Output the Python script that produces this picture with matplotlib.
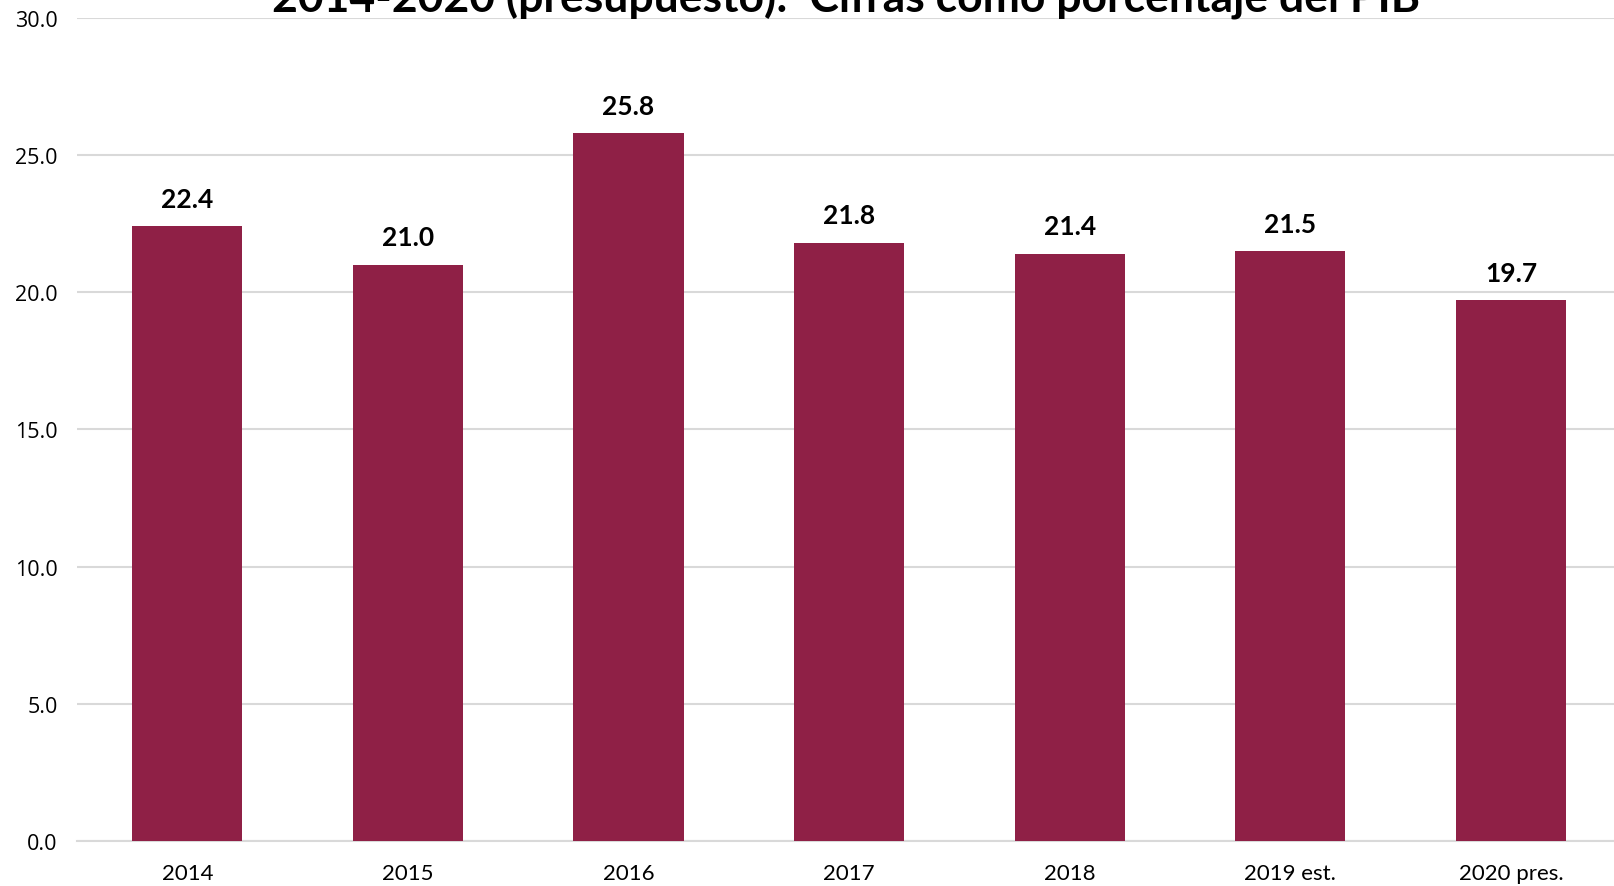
import matplotlib.pyplot as plt

# Data
categories = ["2014", "2015", "2016", "2017", "2018", "2019 est.", "2020 pres."]
values = [22.4, 21.0, 25.8, 21.8, 21.4, 21.5, 19.7]
yticks = [0, 5, 10, 15, 20, 25, 30]
title = "2014-2020 (presupuesto):  Cifras como porcentaje del PIB"

BAR_COLOR = '#8f2046'
GRID_COLOR = '#d9d9d9'

fig = plt.figure(figsize=(16.14, 8.87), dpi=100)
ax = fig.add_axes([0.0477, 0.0507, 0.9568, 0.9283])

x = list(range(len(categories)))
ax.bar(x, values, width=0.5, color=BAR_COLOR, zorder=3)

for xi, v in zip(x, values):
    ax.annotate(f"{v:.1f}", (xi, v), xytext=(0, 11), textcoords='offset points',
                ha='center', va='bottom', fontsize=19, fontweight='bold',
                family='Lato', color='black')

ax.set_xlim(-0.5, len(categories) - 0.5)
ax.set_ylim(0, 30)
ax.set_yticks(yticks)
ax.set_yticklabels([f"{t:.1f}" for t in yticks], family='Open Sans', fontsize=15.5)
ax.set_xticks(x)
ax.set_xticklabels(categories, family='Lato', fontsize=16)
ax.tick_params(axis='y', length=0, pad=14)
ax.tick_params(axis='x', length=0, pad=16)

ax.grid(axis='y', color=GRID_COLOR, linewidth=1.5, zorder=0)
for side in ['top', 'right', 'left']:
    ax.spines[side].set_visible(False)
ax.spines['bottom'].set_color(GRID_COLOR)
ax.spines['bottom'].set_linewidth(1.5)

# title is clipped by the top edge in the original
fig.text(0.524, 1 - 12 / 887, title, ha='center', va='baseline',
         fontsize=32, fontweight='bold', family='Lato')

fig.savefig('out.png', dpi=100)
